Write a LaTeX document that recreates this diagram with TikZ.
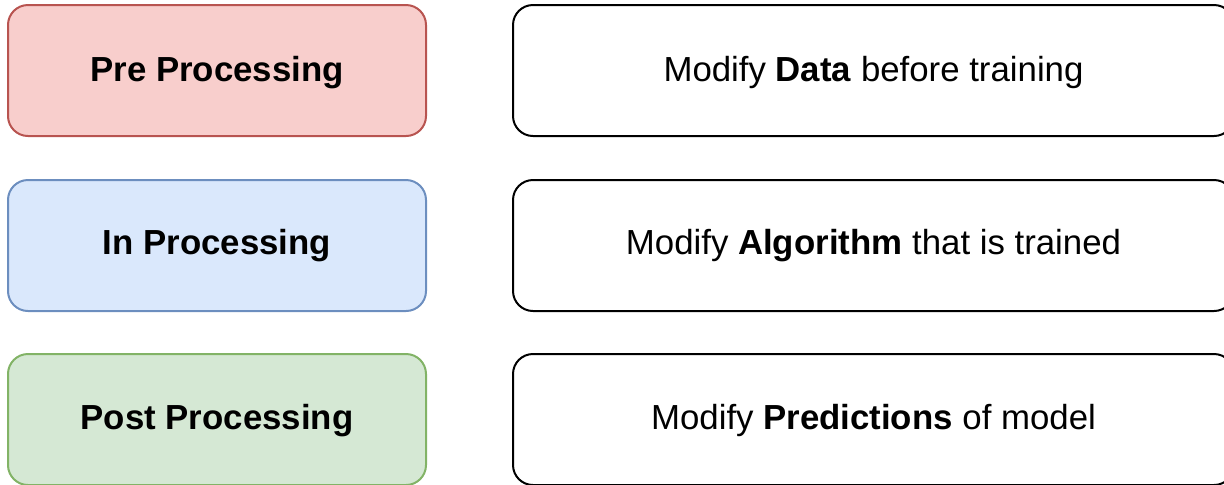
\documentclass[tikz,border=0pt]{standalone}
\usepackage{fontspec}
\setmainfont{Liberation Sans}
\definecolor{redfill}{HTML}{F8CECC}
\definecolor{redline}{HTML}{B85450}
\definecolor{bluefill}{HTML}{DAE8FC}
\definecolor{blueline}{HTML}{6C8EBF}
\definecolor{greenfill}{HTML}{D5E8D4}
\definecolor{greenline}{HTML}{82B366}
\begin{document}
\begin{tikzpicture}[x=0.5pt,y=-0.5pt,
  box/.style={rounded corners=10pt, line width=1pt},
  lab/.style={font=\fontsize{17.4}{20}\selectfont, anchor=base, inner sep=0pt}]
\useasboundingbox (0,0) rectangle (1224,484);
\clip (0,0) rectangle (1224,484);
% left boxes
\draw[box, fill=redfill, draw=redline] (8,5) rectangle (426,136);
\draw[box, fill=bluefill, draw=blueline] (8,180) rectangle (426,311);
\draw[box, fill=greenfill, draw=greenline] (8,354) rectangle (426,485);
% right boxes
\draw[box, draw=black] (513,5) rectangle (1234,136);
\draw[box, draw=black] (513,180) rectangle (1234,311);
\draw[box, draw=black] (513,354) rectangle (1234,485);
% labels
\node[lab] (pre) at (217,81) {\textbf{Pre Processing}};
\node[lab] (in) at (217,254) {\textbf{In Processing}};
\node[lab] (post) at (217,429) {\textbf{Post Processing}};
\node[lab] (d1) at (873.5,81) {Modify \textbf{Data} before training};
\node[lab] (d2) at (873.5,254) {Modify \textbf{Algorithm} that is trained};
\node[lab] (d3) at (873.5,429) {Modify \textbf{Predictions} of model};
\end{tikzpicture}
\end{document}
